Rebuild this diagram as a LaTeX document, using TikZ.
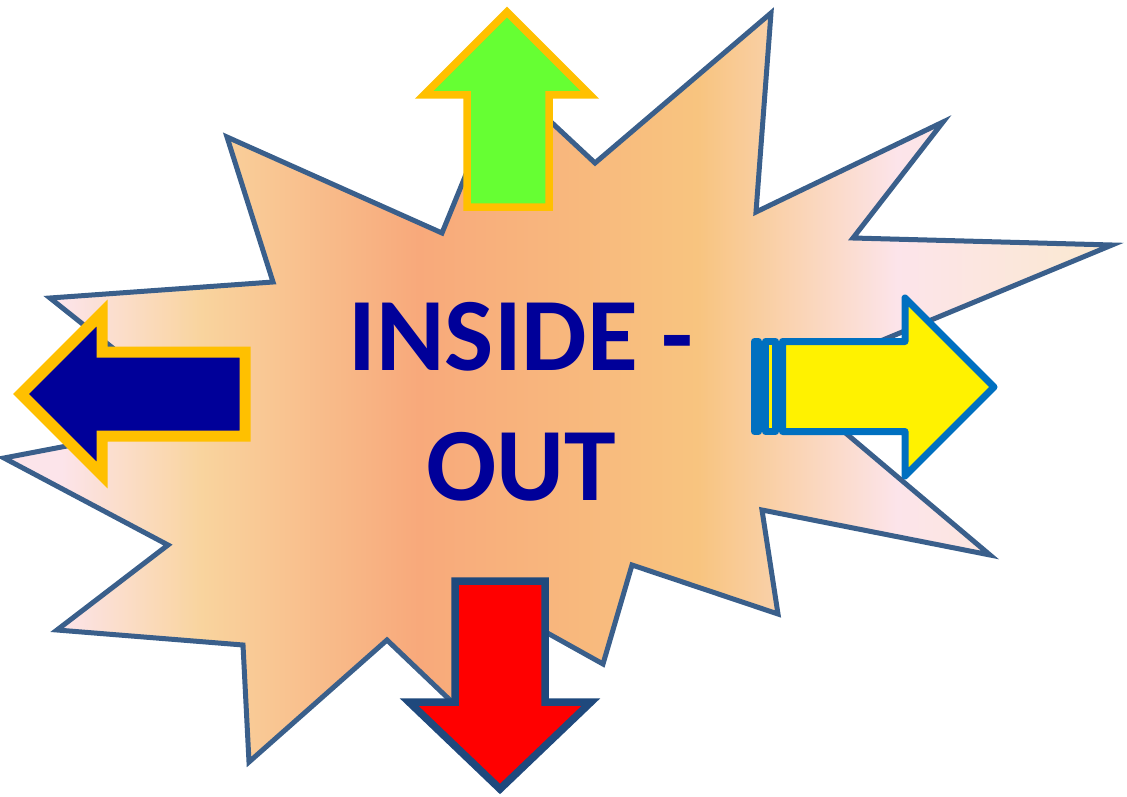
\documentclass[tikz,border=0pt]{standalone}
\usepackage{fontspec}
\setmainfont{Carlito}
\usepackage{tikz}

\definecolor{burstline}{HTML}{3A5F8B}
\definecolor{sunpink}{HTML}{FCE4EA}
\definecolor{sunpeach}{HTML}{F9D49E}
\definecolor{sunsalmon}{HTML}{F8A97B}
\definecolor{sunorange}{HTML}{F8C47F}
\definecolor{suncream}{HTML}{FBE9CF}
\definecolor{gold}{HTML}{FFC000}
\definecolor{navy}{HTML}{000099}
\definecolor{lime}{HTML}{66FF33}
\definecolor{ocean}{HTML}{0070C0}
\definecolor{deepblue}{HTML}{1F497D}
\pgfdeclarehorizontalshading{burstfill}{100bp}{color(0bp)=(sunpink); color(27.6bp)=(sunpink); color(33.9bp)=(sunpeach); color(43.7bp)=(sunsalmon); color(56.3bp)=(sunorange); color(65.3bp)=(sunpink); color(75bp)=(suncream); color(100bp)=(suncream)}

\begin{document}
\begin{tikzpicture}[x=1pt,y=-1pt,
  burst/.style={draw=burstline,line width=5pt,line join=miter,shade,shading=burstfill},
  uparrow/.style={draw=gold,fill=lime,line width=7.5pt,line join=miter},
  leftarrow/.style={draw=gold,fill=navy,line width=11pt,line join=miter},
  downarrow/.style={draw=deepblue,fill=red,line width=7.5pt,line join=miter},
  rightarrow/.style={draw=ocean,fill=yellow,line width=7pt,line join=round},
  title/.style={text=navy,font=\fontsize{104}{125}\selectfont\bfseries,inner sep=0pt,anchor=base}]
\useasboundingbox (0,0) rectangle (1127,797);
% ---------- starburst ----------
\draw[burst] (227,137) -- (442,233) -- (505,79) -- (595,163) -- (771,13) -- (756,212)
  -- (943,122) -- (853,238) -- (1112,245) -- (784,381) -- (990,555) -- (762,510)
  -- (778,614) -- (632,565) -- (603,664) -- (533,625) -- (497,745) -- (387,640)
  -- (249,762) -- (243,645) -- (57,630) -- (168,545) -- (4,458) -- (203,420)
  -- (50,298) -- (273,282) -- cycle;
% ---------- block arrows ----------
\draw[uparrow] (467,207) -- (467,95) -- (424,95) -- (507,12) -- (590,95) -- (549,95) -- (549,207) -- cycle;
\draw[leftarrow] (245,352) -- (102,352) -- (102,313) -- (21,394) -- (102,475) -- (102,436) -- (245,436) -- cycle;
\draw[downarrow] (455,581) -- (545,581) -- (545,702) -- (591,702) -- (500,789) -- (409,702) -- (455,702) -- cycle;
\draw[rightarrow] (754.5,341.5) rectangle (758.5,431.5);
\draw[rightarrow] (765.5,341.5) rectangle (775.5,431.5);
\draw[rightarrow] (782.5,341.5) -- (905,341.5) -- (905,298) -- (994,387) -- (905,476) -- (905,431.5) -- (782.5,431.5) -- cycle;
% ---------- text ----------
\node[title] (inside) at (521,370) {INSIDE -};
\node[title] (out) at (521,500) {OUT};
\end{tikzpicture}
\end{document}
